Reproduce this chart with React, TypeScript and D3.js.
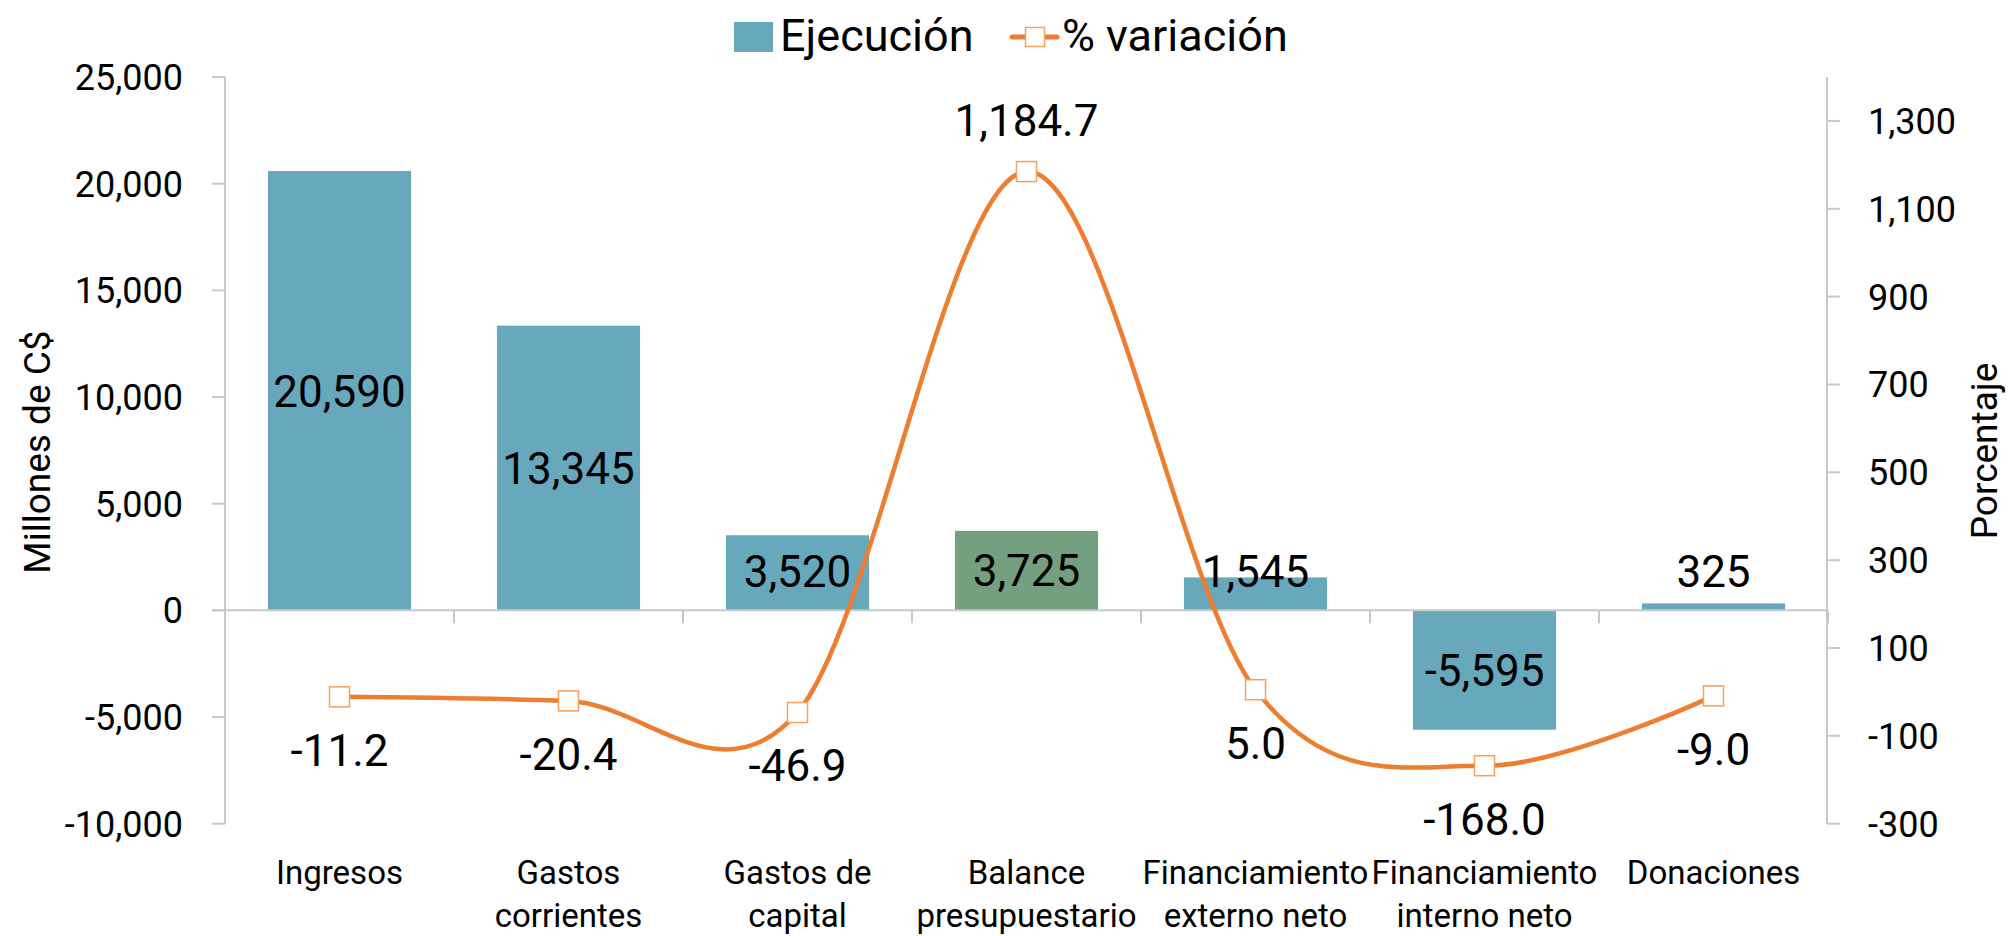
import React from "react";
import * as d3 from "d3";

const categories = [
  "Ingresos",
  "Gastos corrientes",
  "Gastos de capital",
  "Balance presupuestario",
  "Financiamiento externo neto",
  "Financiamiento interno neto",
  "Donaciones",
];
const categoryLines = [
  ["Ingresos"],
  ["Gastos", "corrientes"],
  ["Gastos de", "capital"],
  ["Balance", "presupuestario"],
  ["Financiamiento", "externo neto"],
  ["Financiamiento", "interno neto"],
  ["Donaciones"],
];
const ejecucion = [20590, 13345, 3520, 3725, 1545, -5595, 325];
const variacion = [-11.2, -20.4, -46.9, 1184.7, 5.0, -168.0, -9.0];
const highlighted = [false, false, false, true, false, false, false];
const leftTicks = [-10000, -5000, 0, 5000, 10000, 15000, 20000, 25000];
const rightTicks = [-300, -100, 100, 300, 500, 700, 900, 1100, 1300];

const W = 2011;
const H = 936;
const FONT = "Roboto, 'Liberation Sans', sans-serif";
const BLUE = "#67A8BD";
const GREEN = "#74A080";
const ORANGE = "#ED7D31";
const MARKER = "#F6A05A";
const AXIS = "#C8C8C8";

const loc = d3.formatLocale({ decimal: ".", thousands: ",", grouping: [3], currency: ["", ""], minus: "-" });
const fInt = loc.format(",.0f");
const fPct = loc.format(",.1f");

export default function App() {
  const left = 225, right = 1828, top = 77, bottom = 823.7;
  const x = d3.scaleBand().domain(categories).range([left, right]).paddingInner(0.375).paddingOuter(0.1875);
  const step = x.step();
  const yL = d3.scaleLinear().domain([-10000, 25000]).range([bottom, top]);
  const yR = d3.scaleLinear().domain([-300, 1400]).range([bottom, top]);
  const cx = (i: number) => (x(categories[i]) as number) + x.bandwidth() / 2;
  const zero = yL(0);

  const pts: [number, number][] = variacion.map((v, i) => [cx(i), yR(v)]);
  const line = d3.line().curve(d3.curveCardinal.tension(0))(pts) as string;
  const maxIdx = variacion.indexOf(Math.max(...variacion));
  const ms = 20;

  return (
    <svg width={W} height={H} style={{ position: "absolute", left: 0, top: 0, background: "#fff" }} fontFamily={FONT}>
      <rect x={0} y={0} width={W} height={H} fill="#fff" />
      {/* Legend */}
      <rect x={734} y={22} width={39} height={30} fill={BLUE} />
      <text x={780} y={51} fontSize={45} fill="#000">Ejecución</text>
      <line x1={1012} x2={1057} y1={37} y2={37} stroke={ORANGE} strokeWidth={5} strokeLinecap="round" />
      <rect x={1035 - 9.5} y={37 - 9.5} width={19} height={19} fill="#fff" stroke={MARKER} strokeWidth={1.5} />
      <text x={1062} y={51} fontSize={45} fill="#000">% variación</text>

      {/* Left axis */}
      <line x1={left} x2={left} y1={top} y2={bottom} stroke={AXIS} strokeWidth={2} />
      {leftTicks.map((t) => (
        <g key={"l" + t}>
          <line x1={left - 13} x2={left} y1={yL(t)} y2={yL(t)} stroke={AXIS} strokeWidth={2} />
          <text x={183} y={yL(t)} dy="0.36em" textAnchor="end" fontSize={36} fill="#000">{fInt(t)}</text>
        </g>
      ))}
      <text transform={`translate(50,452) rotate(-90)`} textAnchor="middle" fontSize={37} fill="#000">Millones de C$</text>

      {/* Right axis */}
      <line x1={right - 1} x2={right - 1} y1={top} y2={bottom} stroke={AXIS} strokeWidth={2} />
      {rightTicks.map((t) => (
        <g key={"r" + t}>
          <line x1={right - 1} x2={right + 12} y1={yR(t)} y2={yR(t)} stroke={AXIS} strokeWidth={2} />
          <text x={1868} y={yR(t)} dy="0.36em" textAnchor="start" fontSize={36} fill="#000">{fInt(t)}</text>
        </g>
      ))}
      <text transform={`translate(1997,451) rotate(-90)`} textAnchor="middle" fontSize={37} fill="#000">Porcentaje</text>

      {/* Bars */}
      {ejecucion.map((v, i) => (
        <rect key={"b" + i} x={x(categories[i]) as number} width={x.bandwidth()}
          y={Math.min(yL(v), zero)} height={Math.abs(yL(v) - zero)}
          fill={highlighted[i] ? GREEN : BLUE} />
      ))}

      {/* Category axis */}
      <line x1={left - 13} x2={right} y1={zero} y2={zero} stroke={AXIS} strokeWidth={2} />
      {d3.range(categories.length + 1).map((k) => (
        <line key={"ct" + k} x1={left + k * step} x2={left + k * step} y1={zero} y2={zero + 13} stroke={AXIS} strokeWidth={2} />
      ))}
      {categoryLines.map((lines, i) => (
        <text key={"c" + i} x={cx(i)} y={884} textAnchor="middle" fontSize={33} fill="#000">
          {lines.map((ln, j) => (
            <tspan key={j} x={cx(i)} dy={j === 0 ? 0 : 43}>{ln}</tspan>
          ))}
        </text>
      ))}

      {/* Line */}
      <path d={line} fill="none" stroke={ORANGE} strokeWidth={4.5} strokeLinejoin="round" />
      {pts.map(([px, py], i) => (
        <rect key={"m" + i} x={px - ms / 2} y={py - ms / 2} width={ms} height={ms} fill="#fff" stroke={MARKER} strokeWidth={1.5} />
      ))}

      {/* Bar labels */}
      {ejecucion.map((v, i) => {
        const c = (yL(v) + zero) / 2;
        const cy = v >= 0 ? Math.min(c, zero - 39) : c;
        return (
          <text key={"bl" + i} x={cx(i)} y={cy} dy="0.36em" textAnchor="middle" fontSize={44} fill="#000">{fInt(v)}</text>
        );
      })}

      {/* Line labels */}
      {variacion.map((v, i) => {
        const py = yR(v);
        const cy = i === maxIdx ? py - 51 : py + 53;
        return (
          <text key={"pl" + i} x={cx(i)} y={cy} dy="0.36em" textAnchor="middle" fontSize={44} fill="#000">{fPct(v)}</text>
        );
      })}
    </svg>
  );
}
